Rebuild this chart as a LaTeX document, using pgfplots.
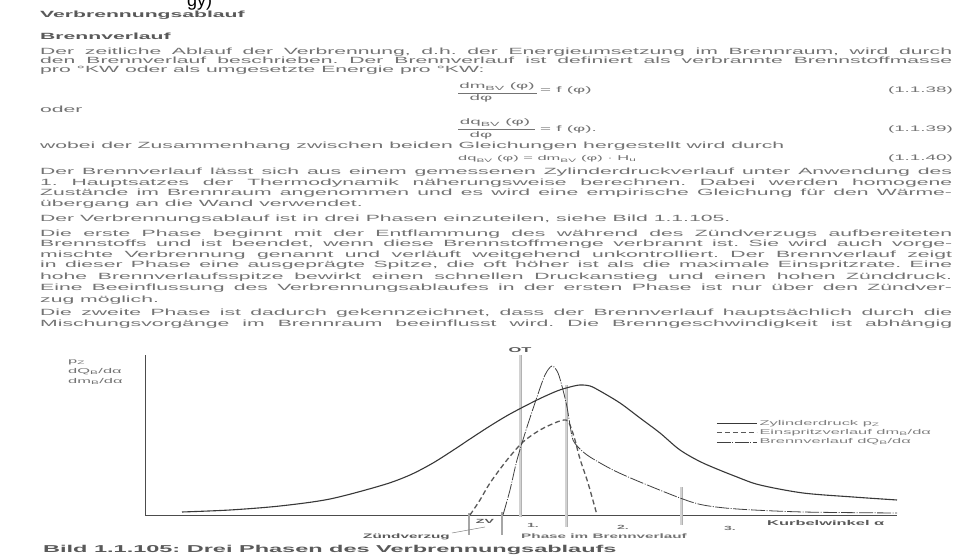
\documentclass[border=0pt]{standalone}
\usepackage{pgfplots}
\pgfplotsset{compat=1.18}
\usepackage{fontspec}
\setmainfont{Liberation Sans}
\newfontfamily\wide[FakeStretch=2.35]{Liberation Sans}
\definecolor{txt}{gray}{0.45}
\definecolor{hd}{gray}{0.35}
\definecolor{ln}{gray}{0.22}
\newcommand\fs[1]{\fontsize{#1}{#1}\selectfont}
\newcommand\sub[1]{\textsubscript{#1}}
\newcommand\JL[2]{\node[anchor=base west,inner sep=0pt,text=txt] at (40,{556-#1}) {\wide\fs{9}\makebox[912pt][s]{#2}};}
\newcommand\PL[2]{\node[anchor=base west,inner sep=0pt,text=txt] at (40,{556-#1}) {\wide\fs{9}#2};}
\frenchspacing
\begin{document}
\frenchspacing
\begin{tikzpicture}[x=1pt,y=1pt]
\path[use as bounding box,fill=white] (0,0) rectangle (954,556);
\clip (0,0) rectangle (954,556);
% top fragment
\node[anchor=base west,inner sep=0pt] at (187,549) {\fs{18}gy)};
% headings
\node[anchor=base west,inner sep=0pt,text=hd] at (40,{556-18}) {\wide\fs{9}\bfseries Verbrennungsablauf};
\node[anchor=base west,inner sep=0pt,text=hd] at (40,{556-40}) {\wide\fs{9}\bfseries Brennverlauf};
\JL{55}{Der zeitliche Ablauf der Verbrennung, d.h. der Energieumsetzung im Brennraum, wird durch}
\JL{64}{den Brennverlauf beschrieben. Der Brennverlauf ist definiert als verbrannte Brennstoffmasse}
\PL{73}{pro °KW oder als umgesetzte Energie pro °KW:}
% formula 1
\node[anchor=base,inner sep=0pt,text=txt] at (497,{556-89}) {\wide\fs{8}dm\sub{BV} (φ)};
\draw[txt,line width=0.5pt] (458,{556-93}) -- (537,{556-93});
\node[anchor=base,inner sep=0pt,text=txt] at (481,{556-101}) {\wide\fs{8}dφ};
\node[anchor=base west,inner sep=0pt,text=txt] at (540,{556-93}) {\wide\fs{8}= f (φ)};
\node[anchor=base east,inner sep=0pt,text=txt] at (953,{556-93}) {\wide\fs{8}(1.1.38)};
\PL{113}{oder}
% formula 2
\node[anchor=base,inner sep=0pt,text=txt] at (495,{556-125}) {\wide\fs{8}dq\sub{BV} (φ)};
\draw[txt,line width=0.5pt] (458,{556-129}) -- (535,{556-129});
\node[anchor=base,inner sep=0pt,text=txt] at (481,{556-138}) {\wide\fs{8}dφ};
\node[anchor=base west,inner sep=0pt,text=txt] at (540,{556-132}) {\wide\fs{8}= f (φ).};
\node[anchor=base east,inner sep=0pt,text=txt] at (953,{556-132}) {\wide\fs{8}(1.1.39)};
\PL{149}{wobei der Zusammenhang zwischen beiden Gleichungen hergestellt wird durch}
% formula 3
\node[anchor=base west,inner sep=0pt,text=txt] at (458,{556-161}) {\wide\fs{7}dq\sub{BV} (φ) = dm\sub{BV} (φ) · H\sub{u}};
\node[anchor=base east,inner sep=0pt,text=txt] at (953,{556-161}) {\wide\fs{8}(1.1.40)};
\JL{175}{Der Brennverlauf lässt sich aus einem gemessenen Zylinderdruckverlauf unter Anwendung des}
\JL{186}{1. Hauptsatzes der Thermodynamik näherungsweise berechnen. Dabei werden homogene}
\JL{196}{Zustände im Brennraum angenommen und es wird eine empirische Gleichung für den Wärme-}
\PL{207}{übergang an die Wand verwendet.}
\PL{222}{Der Verbrennungsablauf ist in drei Phasen einzuteilen, siehe Bild 1.1.105.}
\JL{237}{Die erste Phase beginnt mit der Entflammung des während des Zündverzugs aufbereiteten}
\JL{247}{Brennstoffs und ist beendet, wenn diese Brennstoffmenge verbrannt ist. Sie wird auch vorge-}
\JL{258}{mischte Verbrennung genannt und verläuft weitgehend unkontrolliert. Der Brennverlauf zeigt}
\JL{268}{in dieser Phase eine ausgeprägte Spitze, die oft höher ist als die maximale Einspritzrate. Eine}
\JL{280}{hohe Brennverlaufsspitze bewirkt einen schnellen Druckanstieg und einen hohen Zünddruck.}
\JL{291}{Eine Beeinflussung des Verbrennungsablaufes in der ersten Phase ist nur über den Zündver-}
\PL{303}{zug möglich.}
\JL{316}{Die zweite Phase ist dadurch gekennzeichnet, dass der Brennverlauf hauptsächlich durch die}
\JL{327}{Mischungsvorgänge im Brennraum beeinflusst wird. Die Brenngeschwindigkeit ist abhängig}

\begin{axis}[
  at={(145pt,41pt)}, anchor=south west,
  scale only axis, width=752pt, height=160pt,
  xmin=145, xmax=897, ymin=0, ymax=160,
  axis x line=bottom, axis y line=left,
  axis line style={-, draw=black!70, line width=0.9pt},
  xtick=\empty, ytick=\empty,
  clip=false,
  legend style={draw=none, fill=none, at={(axis cs:716,96)}, anchor=north west,
    inner sep=0pt, row sep=0pt, font=\wide\fs{7}, text=black!50,
    nodes={inner xsep=2pt, inner ysep=1.2pt, text height=5.2pt, text depth=1.5pt}},
  legend cell align=left,
  legend image code/.code={\draw[#1] (0pt,0pt) -- (40pt,0pt);},
]
% vertical phase lines
\addplot[forget plot, draw=gray!60, double=gray!35, double distance=1.2pt, line width=0.9pt] coordinates {(520,-2) (520,160)};
\addplot[forget plot, draw=gray!60, double=gray!35, double distance=1.2pt, line width=0.9pt] coordinates {(566,-12) (566,130)};
\addplot[forget plot, draw=gray!60, double=gray!35, double distance=1.2pt, line width=0.9pt] coordinates {(681,-10) (681,28)};
\addplot[forget plot, draw=gray!70, line width=1.3pt] coordinates {(469,-20) (469,2)};
\addplot[forget plot, draw=gray!70, line width=1.3pt] coordinates {(502,-20) (502,3)};
% Zylinderdruck
\addplot[ln, line width=1.1pt, smooth] coordinates {
(182,3) (230,5) (280,9) (330,16) (383,30) (410,40) (433,52) (455,66) (470,76) (490,89)
(510,101) (537,115) (557,124) (570,128) (580,130) (590,129) (600,124) (620,112) (640,97)
(660,82) (680,65) (703,52) (737,38) (760,30) (803,22) (853,18) (897,15)};
\addlegendentry{Zylinderdruck p\sub{Z}}
% Einspritzverlauf
\addplot[black!65, line width=1.3pt, dash pattern=on 5pt off 3pt, smooth, tension=0.5] coordinates {
(470,0) (480,15) (490,32) (507,55) (523,73) (540,85) (557,93) (566,95) (570,90) (575,75)
(580,56) (588,32) (597,0)};
\addlegendentry{Einspritzverlauf dm\sub{B}/dα}
% Brennverlauf
\addplot[black!75, line width=0.8pt, dash pattern=on 14pt off 1.5pt on 1pt off 1.5pt, smooth, tension=0.5] coordinates {
(503,0) (510,25) (517,55) (527,88) (537,118) (545,140) (552,149) (558,142) (563,125)
(567,108) (570,90) (573,75) (580,66) (590,58) (613,45) (640,33) (680,17) (703,10)
(737,6) (803,3) (897,2)};
\addlegendentry{Brennverlauf dQ\sub{B}/dα}
\draw[gray, line width=0.5pt] (axis cs:452,-18) -- (axis cs:485,-12);
\end{axis}

% chart labels
\node[anchor=west,inner sep=0pt,text=txt] at (68,{556-362}) {\wide\fs{7}p\sub{Z}};
\node[anchor=west,inner sep=0pt,text=txt] at (68,{556-372}) {\wide\fs{7}dQ\sub{B}/dα};
\node[anchor=west,inner sep=0pt,text=txt] at (68,{556-381}) {\wide\fs{7}dm\sub{B}/dα};
\node[anchor=base,inner sep=0pt,text=hd] at (520,{556-352.5}) {\wide\fs{7}\bfseries OT};
\node[inner sep=0pt,text=hd] at (485,{556-521}) {\wide\fs{6}\bfseries ZV};
\node[inner sep=0pt,text=txt] at (533,{556-525}) {\wide\fs{6}\bfseries 1.};
\node[inner sep=0pt,text=txt] at (623,{556-527}) {\wide\fs{6}\bfseries 2.};
\node[inner sep=0pt,text=txt] at (730,{556-528}) {\wide\fs{6}\bfseries 3.};
\node[anchor=west,inner sep=0pt,text=hd] at (767,{556-523}) {\wide\fs{7}\bfseries Kurbelwinkel α};
\node[inner sep=0pt,text=txt] at (604,{556-536}) {\wide\fs{6.5}\bfseries Phase im Brennverlauf};
\node[anchor=east,inner sep=0pt,text=hd] at (450,{556-537}) {\wide\fs{6.5}\bfseries Zündverzug};
\node[anchor=west,inner sep=0pt,text=hd] at (43,{556-550}) {\wide\fs{10}\bfseries Bild 1.1.105: Drei Phasen des Verbrennungsablaufs};
\end{tikzpicture}
\end{document}
